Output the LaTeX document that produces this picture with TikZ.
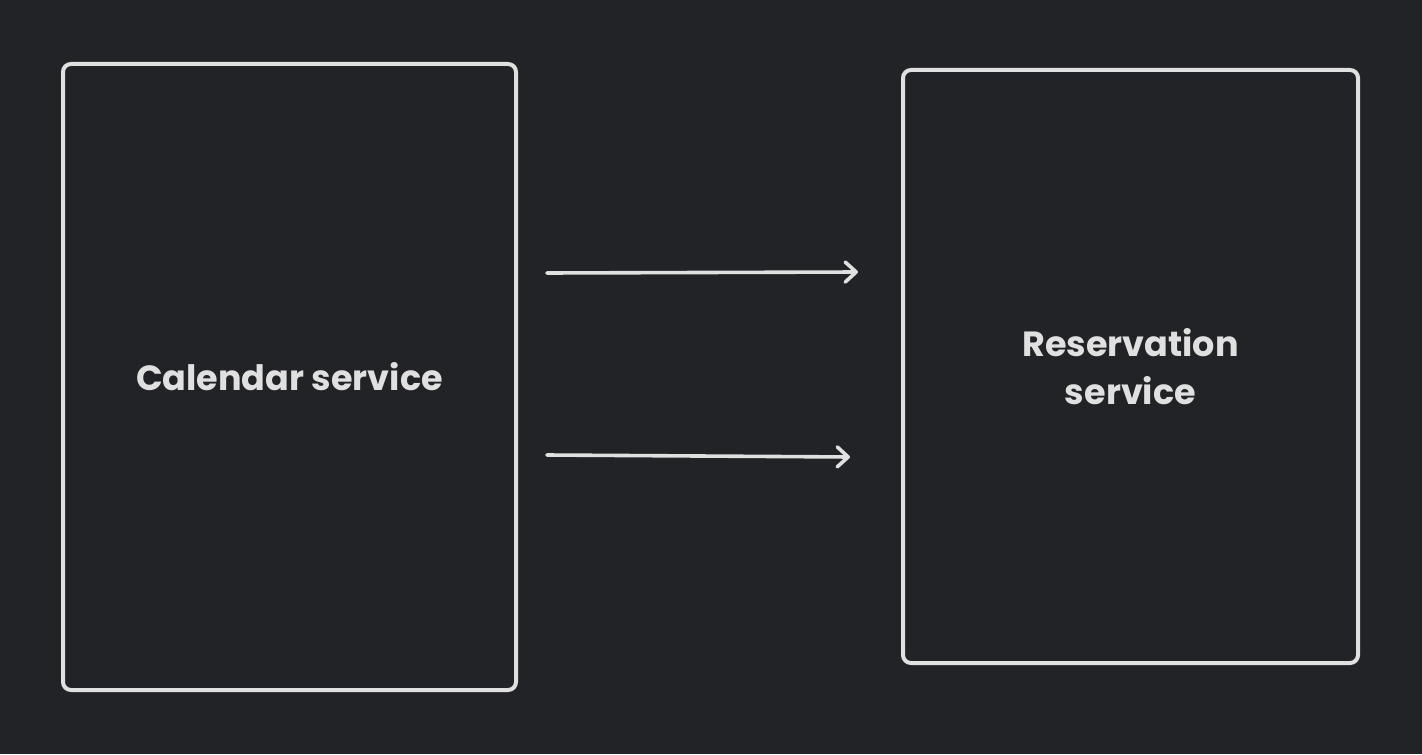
\documentclass[tikz,border=0pt]{standalone}
\usepackage{fontspec}
\setmainfont{Poppins}
\usetikzlibrary{arrows.meta, positioning, calc}
\definecolor{bgdark}{HTML}{212327}
\definecolor{inkline}{HTML}{E0E0E0}
\tikzset{
  servicebox/.style={draw=inkline, line width=2pt, rounded corners=4pt, inner sep=0pt,
    text=inkline, font=\bfseries\fontsize{17.5}{24}\selectfont, align=center},
  callarrow/.style={draw=inkline, line width=1.8pt, line cap=round,
    -{Straight Barb[length=5.5pt, width=10pt, line width=1.8pt, round]}}
}
\begin{document}
\begin{tikzpicture}[x=0.5pt, y=-0.5pt]
  % Background
  \fill[bgdark] (0,0) rectangle (1422,754);
  \useasboundingbox (0,0) rectangle (1422,754);

  % Services
  \node[servicebox, minimum width=226.5pt, minimum height=313pt] (calendar) at (289.5,377) {Calendar service};
  \node[servicebox, minimum width=227.5pt, minimum height=296.5pt] (reservation) at (1130.5,366.5) {Reservation\\service};

  % Calls
  \coordinate (callA) at (858,272);
  \coordinate (callB) at (850,457);
  \draw[callarrow] (calendar.east |- 0,273) ++(29,0) -- (callA);
  \draw[callarrow] (calendar.east |- 0,455) ++(29,0) -- (callB);
\end{tikzpicture}
\end{document}
